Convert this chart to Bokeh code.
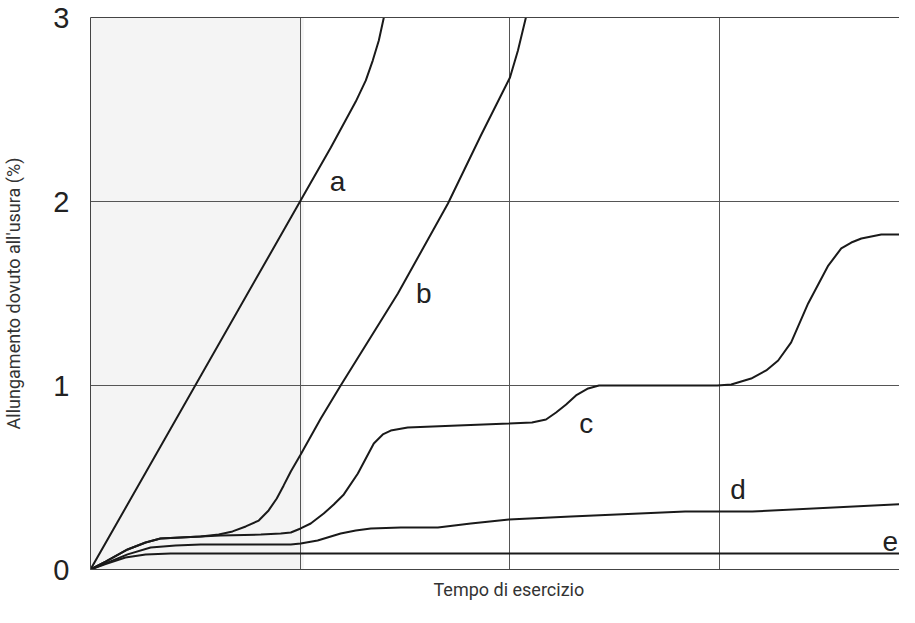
from bokeh.plotting import figure
from bokeh.models import Range1d, FixedTicker, LinearAxis, BoxAnnotation, Grid, Title
from bokeh.core.properties import value
from bokeh.embed import file_html
from bokeh.resources import INLINE

# ---- data (x: operating time in grid units, y: elongation %) ----
a_x = [0, 1.0, 1.147, 1.266, 1.314, 1.347, 1.376, 1.400, 1.414]
a_y = [0, 2.0, 2.293, 2.543, 2.658, 2.766, 2.875, 3.0, 3.09]

b_x = [0, 0.072, 0.177, 0.263, 0.334, 0.430, 0.526, 0.612, 0.678, 0.741, 0.803, 0.850,
       0.889, 0.922, 0.956, 1.003, 1.099, 1.194, 1.467, 1.706, 1.863, 2.002, 2.040, 2.078, 2.093]
b_y = [0, 0.043, 0.109, 0.147, 0.168, 0.174, 0.179, 0.190, 0.207, 0.234, 0.266, 0.321,
       0.386, 0.457, 0.533, 0.625, 0.821, 1.0, 1.5, 1.989, 2.359, 2.674, 2.821, 3.0, 3.065]

c_x = [0, 0.072, 0.177, 0.263, 0.334, 0.430, 0.621, 0.813, 0.908, 0.956, 1.003, 1.051,
       1.113, 1.161, 1.209, 1.276, 1.352, 1.395, 1.433, 1.514, 1.753, 1.997, 2.107, 2.174,
       2.222, 2.270, 2.317, 2.375, 2.427, 2.991, 3.058, 3.153, 3.225, 3.282, 3.344, 3.425,
       3.521, 3.583, 3.631, 3.679, 3.774, 3.95]
c_y = [0, 0.043, 0.109, 0.147, 0.168, 0.174, 0.185, 0.190, 0.196, 0.201, 0.223, 0.250,
       0.304, 0.353, 0.408, 0.522, 0.685, 0.734, 0.755, 0.772, 0.783, 0.793, 0.799, 0.815,
       0.853, 0.897, 0.946, 0.984, 1.0, 1.0, 1.005, 1.038, 1.082, 1.136, 1.234, 1.446,
       1.652, 1.745, 1.777, 1.799, 1.821, 1.821]

d_x = [0, 0.072, 0.177, 0.287, 0.406, 0.526, 0.956, 1.003, 1.084, 1.194, 1.266, 1.338,
       1.481, 1.658, 1.815, 1.997, 2.293, 2.838, 3.158, 3.95]
d_y = [0, 0.033, 0.082, 0.120, 0.130, 0.136, 0.136, 0.141, 0.158, 0.196, 0.212, 0.223,
       0.228, 0.228, 0.250, 0.272, 0.288, 0.315, 0.315, 0.36]

e_x = [0, 0.072, 0.167, 0.263, 0.382, 3.95]
e_y = [0, 0.030, 0.065, 0.082, 0.087, 0.087]

curve_names = ["a", "b", "c", "d", "e"]
label_x = [1.142, 1.553, 2.332, 3.053, 3.78]
label_y = [2.11, 1.50, 0.795, 0.436, 0.153]

y_ticks = [0, 1, 2, 3]
x_grid = [1, 2, 3]
y_grid = [1, 2]
shade_x = [-0.096, 1.018]

x_label = "Tempo di esercizio"
y_label = "Allungamento dovuto all'usura (%)"

# ---- figure ----
p = figure(width=899, height=607, output_backend="svg", toolbar_location=None,
           x_range=Range1d(0, 3.861), y_range=Range1d(0, 3),
           min_border_left=90, min_border_right=0, min_border_top=17, min_border_bottom=38,
           x_axis_type=None, y_axis_type=None)
p.outline_line_color = None
p.background_fill_color = "white"
p.border_fill_color = "white"

shade = BoxAnnotation(left=shade_x[0], right=shade_x[1], bottom=-2, top=5,
                      fill_color="#f4f4f4", fill_alpha=1, line_color=None, level="underlay")
p.add_layout(shade)

# axes
yax = LinearAxis(ticker=FixedTicker(ticks=y_ticks))
yax.axis_label = y_label
yax.axis_label_text_font = "Roboto"
yax.axis_label_text_font_size = "18px"
yax.axis_label_text_font_style = "normal"
yax.axis_label_text_color = "#333333"
yax.axis_label_standoff = 26
yax.major_label_text_font = "Liberation Sans"
yax.major_label_text_font_size = "29px"
yax.major_label_text_color = "#222222"
yax.major_label_standoff = 15
yax.major_tick_line_color = None
yax.minor_tick_line_color = None
yax.axis_line_color = "#444444"
p.add_layout(yax, "left")

xax = LinearAxis(ticker=FixedTicker(ticks=[]))
xax.major_tick_line_color = None
xax.minor_tick_line_color = None
xax.axis_line_color = "#444444"
p.add_layout(xax, "below")

xt = Title(text=x_label, align="left", offset=343, standoff=15,
           text_font="Roboto", text_font_size="18px", text_font_style="normal",
           text_color="#333333")
p.add_layout(xt, "below")

tax = LinearAxis(ticker=FixedTicker(ticks=[]))
tax.major_tick_line_color = None
tax.minor_tick_line_color = None
tax.axis_line_color = "#444444"
p.add_layout(tax, "above")

# grids
p.add_layout(Grid(dimension=0, ticker=FixedTicker(ticks=x_grid), grid_line_color="#555555", grid_line_width=1))
p.add_layout(Grid(dimension=1, ticker=FixedTicker(ticks=y_grid), grid_line_color="#555555", grid_line_width=1))

# curves
for xs, ys in [(a_x, a_y), (b_x, b_y), (c_x, c_y), (d_x, d_y), (e_x, e_y)]:
    p.line(xs, ys, line_color="#1a1a1a", line_width=2)

p.text(x=label_x, y=label_y, text=curve_names, text_font=value("Liberation Sans"),
       text_font_size="28px", text_color="#222222", text_baseline="alphabetic", text_align="left")

open("out.html", "w").write(file_html(p, INLINE))
